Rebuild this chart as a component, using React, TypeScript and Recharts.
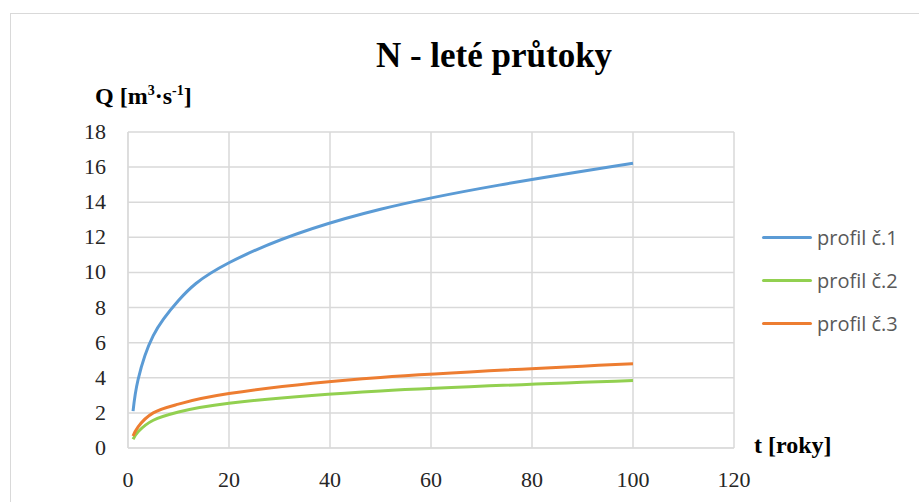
import { LineChart, Line, XAxis, YAxis, CartesianGrid, Legend } from 'recharts';

const years = [1, 2, 5, 10, 20, 50, 100];
const profil1 = [2.1, 3.9, 6.4, 8.4, 10.55, 13.6, 16.22];
const profil2 = [0.5, 0.92, 1.58, 2.05, 2.55, 3.25, 3.85];
const profil3 = [0.68, 1.2, 2.0, 2.5, 3.1, 4.02, 4.8];
const xTicks = [0, 20, 40, 60, 80, 100, 120];
const yTicks = [0, 2, 4, 6, 8, 10, 12, 14, 16, 18];

const series = [
  { key: 'p1', name: 'profil č.1', color: '#5b9bd5' },
  { key: 'p2', name: 'profil č.2', color: '#92d050' },
  { key: 'p3', name: 'profil č.3', color: '#ed7d31' },
];

const data = years.map((t, i) => ({ t, p1: profil1[i], p2: profil2[i], p3: profil3[i] }));

const serif = '"Liberation Serif", "Times New Roman", serif';
const supStyle = { fontSize: 14, verticalAlign: 'baseline', position: 'relative' as const, top: -9 };

function XTick({ x, y, payload }: any) {
  return (
    <text x={x} y={y} dy={16} textAnchor="middle" style={{ fontFamily: serif, fontSize: 22, fill: '#262626' }}>
      {payload.value}
    </text>
  );
}

function YTick({ x, y, payload }: any) {
  return (
    <text x={x} y={y} dy={7} textAnchor="end" style={{ fontFamily: serif, fontSize: 22, fill: '#262626' }}>
      {payload.value}
    </text>
  );
}

function LegendBox() {
  return (
    <div>
      {series.map((s) => (
        <div key={s.key} style={{ display: 'flex', alignItems: 'center', height: 43 }}>
          <div style={{ width: 50, height: 3, background: s.color, borderRadius: 2, marginRight: 5 }} />
          <span style={{ fontFamily: '"Open Sans", sans-serif', fontSize: 20, color: '#595959', lineHeight: 1 }}>
            {s.name}
          </span>
        </div>
      ))}
    </div>
  );
}

export default function App() {
  return (
    <div style={{ position: 'absolute', left: 0, top: 0, width: 919, height: 502, background: '#fff', overflow: 'hidden', fontFamily: serif }}>
      <div style={{ position: 'absolute', left: 10, top: 13, width: 930, height: 520, border: '1px solid #d9d9d9' }} />
      <div style={{ position: 'absolute', left: 194, top: 38, width: 600, textAlign: 'center', fontWeight: 'bold', fontSize: 35, lineHeight: 1, color: '#000', whiteSpace: 'nowrap' }}>
        N - leté průtoky
      </div>
      <div style={{ position: 'absolute', left: 95, top: 84, fontWeight: 'bold', fontSize: 24, lineHeight: 1, color: '#000', whiteSpace: 'nowrap' }}>
        Q [m<span style={supStyle}>3</span>·s<span style={supStyle}>-1</span>]
      </div>
      <div style={{ position: 'absolute', left: 754, top: 433, fontWeight: 'bold', fontSize: 24, lineHeight: 1, color: '#000', whiteSpace: 'nowrap' }}>
        t [roky]
      </div>
      <LineChart width={919} height={502} data={data} margin={{ top: 132, right: 185, bottom: 24, left: 88 }}>
        <CartesianGrid stroke="#d9d9d9" strokeWidth={1.5} />
        <XAxis
          dataKey="t"
          type="number"
          domain={[0, 120]}
          ticks={xTicks}
          height={30}
          stroke="#d9d9d9"
          tickLine={false}
          tickSize={0}
          tickMargin={23}
          tick={<XTick />}
        />
        <YAxis
          type="number"
          domain={[0, 18]}
          ticks={yTicks}
          width={40}
          stroke="#d9d9d9"
          tickLine={false}
          tickSize={0}
          tickMargin={22}
          tick={<YTick />}
        />
        <Legend
          layout="vertical"
          align="center"
          verticalAlign="middle"
          wrapperStyle={{ left: 762, top: 216, width: 160 }}
          content={() => <LegendBox />}
        />
        {series.map((s) => (
          <Line
            key={s.key}
            type="natural"
            dataKey={s.key}
            name={s.name}
            stroke={s.color}
            strokeWidth={3}
            dot={false}
            isAnimationActive={false}
          />
        ))}
      </LineChart>
    </div>
  );
}
